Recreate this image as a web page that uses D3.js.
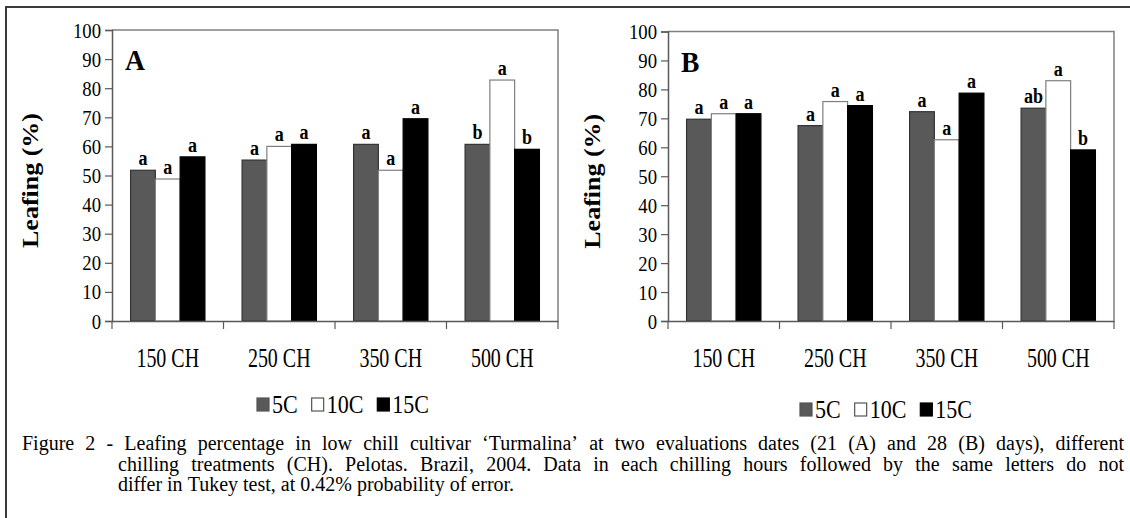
<!DOCTYPE html>
<html>
<head>
<meta charset="utf-8">
<script src="https://cdn.jsdelivr.net/npm/d3@7"></script>
<style>
  body { margin: 0; background: #fff; }
  svg { display: block; }
  text { font-family: "Liberation Serif", "Times New Roman", serif; fill: #000; }
</style>
</head>
<body>
<script>
// categories and series
var categories = ["150 CH", "250 CH", "350 CH", "500 CH"];
var series = ["5C", "10C", "15C"];
var yTicks = [0, 10, 20, 30, 40, 50, 60, 70, 80, 90, 100];

// panel A (21 days)
var a5C = [51.8, 55.3, 60.7, 60.7];
var a10C = [48.8, 60.0, 51.8, 82.8];
var a15C = [56.4, 60.7, 69.5, 59.0];
var aLetters5C = ["a", "a", "a", "b"];
var aLetters10C = ["a", "a", "a", "a"];
var aLetters15C = ["a", "a", "a", "b"];

// panel B (28 days)
var b5C = [69.7, 67.5, 72.3, 73.5];
var b10C = [71.6, 75.8, 62.6, 83.0];
var b15C = [71.6, 74.4, 78.7, 59.1];
var bLetters5C = ["a", "a", "a", "ab"];
var bLetters10C = ["a", "a", "a", "a"];
var bLetters15C = ["a", "a", "a", "b"];

var captionLines = [
  "Figure 2 - Leafing percentage in low chill cultivar \u2018Turmalina\u2019 at two evaluations dates (21 (A) and 28 (B) days), different",
  "chilling treatments (CH). Pelotas. Brazil, 2004. Data in each chilling hours followed by the same letters do not",
  "differ in Tukey test, at 0.42% probability of error."
];

var fills = { "5C": "#595959", "10C": "#ffffff", "15C": "#000000" };
var strokes = { "5C": "#333333", "10C": "#7f7f7f", "15C": "#000000" };

const W = 1130, H = 518;

var svg = d3.select("body").append("svg")
  .attr("width", W)
  .attr("height", H);

// outer frame (only left and top visible)
svg.append("path")
  .attr("d", "M6,518 L6,7 L1130,7")
  .attr("fill", "none")
  .attr("stroke", "#3a3a3a")
  .attr("stroke-width", 2);

// text helper with horizontal squeeze
function sqText(g, x, y, str, size, sx, anchor, weight) {
  return g.append("text")
    .attr("transform", "translate(" + x + "," + y + ") scale(" + sx + ",1)")
    .attr("text-anchor", anchor || "middle")
    .attr("font-size", size)
    .attr("font-weight", weight || "normal")
    .text(str);
}

function drawPanel(p) {
  var g = svg.append("g");

  var x = d3.scaleBand().domain(categories).range([p.left, p.right]).padding(0);
  var xs = d3.scaleBand().domain(series).range([0, x.bandwidth()]).paddingInner(0).paddingOuter(0.75);
  var y = d3.scaleLinear().domain([0, 100]).range([p.zero, p.top]);

  // plot border top/right
  g.append("path")
    .attr("d", "M" + p.left + "," + p.top + " L" + p.right + "," + p.top + " L" + p.right + "," + p.zero)
    .attr("fill", "none")
    .attr("stroke", "#808080")
    .attr("stroke-width", 1.5);

  var rows = series.map(function (s, i) {
    return categories.map(function (c, j) {
      return { cat: c, ser: s, v: p.values[i][j], lab: p.letters[i][j] };
    });
  });
  var flat = [].concat.apply([], rows);

  g.selectAll("rect.bar")
    .data(flat)
    .enter()
    .append("rect")
    .attr("class", "bar")
    .attr("x", d => x(d.cat) + xs(d.ser))
    .attr("y", d => y(d.v))
    .attr("width", xs.bandwidth())
    .attr("height", d => y(0) - y(d.v))
    .attr("fill", d => fills[d.ser])
    .attr("stroke", d => strokes[d.ser])
    .attr("stroke-width", 1.2);

  flat.forEach(function (d) {
    sqText(g, x(d.cat) + xs(d.ser) + xs.bandwidth() / 2, y(d.v) - 5, d.lab, 22, 0.82, "middle", "bold");
  });

  // y axis
  var yAxis = d3.axisLeft(y).tickValues(yTicks).tickSize(7).tickPadding(4).tickFormat(d3.format("d"));
  var ya = g.append("g")
    .attr("transform", "translate(" + p.left + ",0)")
    .call(yAxis);
  ya.select(".domain").attr("stroke", "#595959").attr("stroke-width", 1.5);
  ya.selectAll(".tick line").attr("stroke", "#595959").attr("stroke-width", 1.2);
  ya.selectAll(".tick text").remove();
  yTicks.forEach(function (t) {
    sqText(g, p.left - 11, y(t) + 7.5, String(t), 22, 0.85, "end");
  });

  // x axis with ticks at category boundaries
  var xAxis = d3.axisBottom(x).tickSize(0).tickFormat("");
  var xa = g.append("g")
    .attr("transform", "translate(0," + p.zero + ")")
    .call(xAxis);
  xa.select(".domain").attr("stroke", "#595959").attr("stroke-width", 1.5);
  var bounds = categories.map(c => x(c)).concat([p.right]);
  xa.selectAll("line.bound")
    .data(bounds)
    .enter()
    .append("line")
    .attr("class", "bound")
    .attr("x1", d => d).attr("x2", d => d)
    .attr("y1", 0).attr("y2", 8)
    .attr("stroke", "#595959")
    .attr("stroke-width", 1.2);

  categories.forEach(function (c) {
    sqText(g, x(c) + x.bandwidth() / 2, p.zero + 46, c, 27, 0.74, "middle");
  });

  // panel letter
  sqText(g, p.left + 13, p.top + 40, p.name, 30, 0.92, "start", "bold");

  // y title
  g.append("text")
    .attr("transform", "translate(" + (p.left - p.titleOff) + "," + ((p.top + p.zero) / 2 + 5) + ") rotate(-90) scale(1,0.85)")
    .attr("text-anchor", "middle")
    .attr("font-size", 26)
    .attr("font-weight", "bold")
    .text("Leafing (%)");

  // legend
  var lg = g.append("g").attr("transform", "translate(" + p.legX + "," + p.legY + ")");
  var lx = 0;
  series.forEach(function (s) {
    lg.append("rect")
      .attr("x", lx).attr("y", -15)
      .attr("width", 12).attr("height", 13)
      .attr("fill", fills[s])
      .attr("stroke", s === "15C" ? "#000" : "#555")
      .attr("stroke-width", 1.2);
    var t = sqText(lg, lx + 15, 0, s, 25, 0.88, "start");
    lx += 15 + t.node().getComputedTextLength() * 0.88 + 14;
  });
}

drawPanel({
  name: "A", left: 112, right: 558, top: 30, zero: 321,
  values: [a5C, a10C, a15C], letters: [aLetters5C, aLetters10C, aLetters15C],
  titleOff: 74, legX: 257, legY: 413
});
drawPanel({
  name: "B", left: 668, right: 1114, top: 31.5, zero: 321,
  values: [b5C, b10C, b15C], letters: [bLetters5C, bLetters10C, bLetters15C],
  titleOff: 68, legX: 800, legY: 418
});

// caption, justified lines
var cap = svg.append("g");
var capStarts = [22, 118, 118];
var capBase = [450, 471, 491];
var capEnd = 1124;
captionLines.forEach(function (line, i) {
  var words = line.split(" ");
  var x0 = capStarts[i];
  var ws = words.map(function (w) {
    var t = cap.append("text").attr("font-size", 20).text(w);
    return { t: t, len: t.node().getComputedTextLength() };
  });
  var total = d3.sum(ws, d => d.len);
  var gap = 5;
  if (i < captionLines.length - 1) {
    gap = (capEnd - x0 - total) / (ws.length - 1);
  }
  var cx = x0;
  ws.forEach(function (d) {
    d.t.attr("x", cx).attr("y", capBase[i]);
    cx += d.len + gap;
  });
});
</script>
</body>
</html>
